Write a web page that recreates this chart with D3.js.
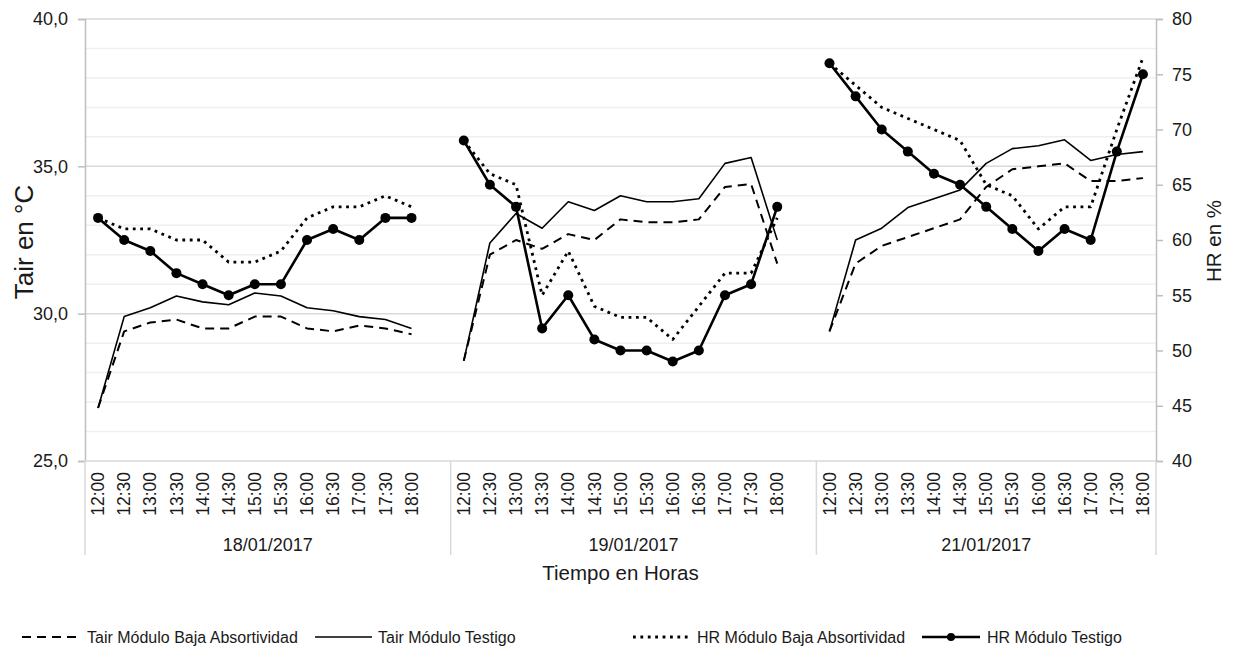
<!DOCTYPE html>
<html>
<head>
<meta charset="utf-8">
<script src="https://cdn.jsdelivr.net/npm/d3@7"></script>
<style>
  html, body { margin: 0; padding: 0; background: #fff; }
  svg { display: block; font-family: "Liberation Sans", Arial, sans-serif; }
</style>
</head>
<body>
<svg id="chart" width="1233" height="648"></svg>
<script>
// ---------------- DATA ----------------
const dates = ["18/01/2017", "19/01/2017", "21/01/2017"];
const hours = ["12:00","12:30","13:00","13:30","14:00","14:30","15:00","15:30","16:00","16:30","17:00","17:30","18:00"];
const groupHasBlank = [true, true, false];   // empty trailing category after the day's hours

const tairBaja = [
  [26.8,29.4,29.7,29.8,29.5,29.5,29.9,29.9,29.5,29.4,29.6,29.5,29.3],
  [28.4,32.0,32.5,32.2,32.7,32.5,33.2,33.1,33.1,33.2,34.3,34.4,31.7],
  [29.4,31.7,32.3,32.6,32.9,33.2,34.3,34.9,35.0,35.1,34.5,34.5,34.6]
];
const tairTestigo = [
  [26.8,29.9,30.2,30.6,30.4,30.3,30.7,30.6,30.2,30.1,29.9,29.8,29.5],
  [28.4,32.4,33.4,32.9,33.8,33.5,34.0,33.8,33.8,33.9,35.1,35.3,32.5],
  [29.4,32.5,32.9,33.6,33.9,34.2,35.1,35.6,35.7,35.9,35.2,35.4,35.5]
];
const hrBaja = [
  [62,61,61,60,60,58,58,59,62,63,63,64,63],
  [69,66,65,55,59,54,53,53,51,54,57,57,62],
  [76,74,72,71,70,69,65,64,61,63,63,70,76.5]
];
const hrTestigo = [
  [62,60,59,57,56,55,56,56,60,61,60,62,62],
  [69,65,63,52,55,51,50,50,49,50,55,56,63],
  [76,73,70,68,66,65,63,61,59,61,60,68,75]
];

const leftTicks = [25, 30, 35, 40];
const rightTicks = [40, 45, 50, 55, 60, 65, 70, 75, 80];
const legendLabels = ["Tair Módulo Baja Absortividad", "Tair Módulo Testigo", "HR Módulo Baja Absortividad", "HR Módulo Testigo"];

// ---------------- LAYOUT ----------------
const M = { left: 85, right: 1156, top: 19, bottom: 461 };
const textColor = "#1a1a1a";
const svg = d3.select("#chart");

// category domain with blank slots
const domain = [];
dates.forEach((d, g) => {
  hours.forEach((h, i) => domain.push(g + "|" + i));
  if (groupHasBlank[g]) domain.push(g + "|blank");
});
const x = d3.scaleBand().domain(domain).range([M.left, M.right]).padding(0);
const xc = key => x(key) + x.bandwidth() / 2;

const yL = d3.scaleLinear().domain([25, 40]).range([M.bottom, M.top]);
const yR = d3.scaleLinear().domain([40, 80]).range([M.bottom, M.top]);

// ---------------- GRID ----------------
const minor = d3.range(26, 40, 1).filter(v => v % 5 !== 0);
svg.append("g").selectAll("line").data(minor).join("line")
  .attr("x1", M.left).attr("x2", M.right)
  .attr("y1", d => yL(d)).attr("y2", d => yL(d))
  .attr("stroke", "#efefef").attr("stroke-width", 1.5);
svg.append("g").selectAll("line").data([30, 35, 40]).join("line")
  .attr("x1", M.left).attr("x2", M.right)
  .attr("y1", d => yL(d)).attr("y2", d => yL(d))
  .attr("stroke", "#d9d9d9").attr("stroke-width", 1.5);

// ---------------- AXES ----------------
const leftAxis = d3.axisLeft(yL).tickValues(leftTicks).tickSize(7).tickPadding(10)
  .tickFormat(d => d3.format(".1f")(d).replace(".", ","));
const gL = svg.append("g").attr("transform", `translate(${M.left},0)`).call(leftAxis);
gL.select(".domain").attr("stroke", "#bfbfbf").attr("stroke-width", 1.5);
gL.selectAll(".tick line").attr("stroke", "#bfbfbf").attr("stroke-width", 1.5);
gL.selectAll(".tick text").attr("fill", textColor).style("font-size", "18px");

const rightAxis = d3.axisRight(yR).tickValues(rightTicks).tickSize(7).tickPadding(9);
const gR = svg.append("g").attr("transform", `translate(${M.right},0)`).call(rightAxis);
gR.select(".domain").attr("stroke", "#bfbfbf").attr("stroke-width", 1.5);
gR.selectAll(".tick line").attr("stroke", "#bfbfbf").attr("stroke-width", 1.5);
gR.selectAll(".tick text").attr("fill", textColor).style("font-size", "18px");

// x baseline
svg.append("line").attr("x1", M.left).attr("x2", M.right)
  .attr("y1", M.bottom).attr("y2", M.bottom)
  .attr("stroke", "#d9d9d9").attr("stroke-width", 1.5);

// group separators
const groupBounds = dates.map((d, g) => {
  const keys = domain.filter(k => k.startsWith(g + "|"));
  return [x(keys[0]), x(keys[keys.length - 1]) + x.bandwidth()];
});
const sepX = [groupBounds[0][0], ...groupBounds.map(b => b[1])];
svg.append("g").selectAll("line").data(sepX).join("line")
  .attr("x1", d => d).attr("x2", d => d)
  .attr("y1", M.bottom).attr("y2", 555)
  .attr("stroke", "#d9d9d9").attr("stroke-width", 1.5);

// hour labels
const hourKeys = domain.filter(k => !k.endsWith("blank"));
svg.append("g").selectAll("text").data(hourKeys).join("text")
  .attr("transform", k => `translate(${xc(k)},472) rotate(-90)`)
  .attr("text-anchor", "end").attr("dy", "0.35em")
  .attr("fill", textColor).style("font-size", "17.5px")
  .text(k => hours[+k.split("|")[1]]);

// date labels
svg.append("g").selectAll("text").data(dates).join("text")
  .attr("x", (d, g) => (groupBounds[g][0] + groupBounds[g][1]) / 2)
  .attr("y", 551).attr("text-anchor", "middle")
  .attr("fill", textColor).style("font-size", "18px")
  .text(d => d);

// axis titles
svg.append("text").attr("x", (M.left + M.right) / 2).attr("y", 580)
  .attr("text-anchor", "middle").attr("fill", textColor).style("font-size", "20.5px")
  .text("Tiempo en Horas");
svg.append("text").attr("transform", "translate(33,242) rotate(-90)")
  .attr("text-anchor", "middle").attr("fill", textColor).style("font-size", "26px")
  .text("Tair en °C");
svg.append("text").attr("transform", "translate(1221,241) rotate(-90)")
  .attr("text-anchor", "middle").attr("fill", textColor).style("font-size", "20.5px")
  .text("HR en %");

// ---------------- SERIES ----------------
const styles = {
  tairBaja:    { width: 2,   dash: "9,6" },
  tairTestigo: { width: 1.6, dash: null },
  hrBaja:      { width: 2.8, dash: "2.8,4.6" },
  hrTestigo:   { width: 2.6, dash: null }
};

function drawSeries(data, yScale, st, markers) {
  const g = svg.append("g");
  data.forEach((vals, gi) => {
    const pts = vals.map((v, i) => [xc(gi + "|" + i), yScale(v)]);
    g.append("path").attr("d", d3.line()(pts))
      .attr("fill", "none").attr("stroke", "#000")
      .attr("stroke-width", st.width)
      .attr("stroke-dasharray", st.dash)
      .attr("stroke-linejoin", "round");
    if (markers) {
      g.selectAll(null).data(pts).join("circle")
        .attr("cx", p => p[0]).attr("cy", p => p[1]).attr("r", 5).attr("fill", "#000");
    }
  });
}
drawSeries(tairBaja, yL, styles.tairBaja, false);
drawSeries(tairTestigo, yL, styles.tairTestigo, false);
drawSeries(hrBaja, yR, styles.hrBaja, false);
drawSeries(hrTestigo, yR, styles.hrTestigo, true);

// ---------------- LEGEND ----------------
const legendY = 637;
const legendItems = [
  { x0: 22,  x1: 78,  tx: 87,  st: styles.tairBaja,    m: false },
  { x0: 315, x1: 372, tx: 378, st: styles.tairTestigo, m: false },
  { x0: 633, x1: 690, tx: 697, st: styles.hrBaja,      m: false },
  { x0: 922, x1: 980, tx: 987, st: styles.hrTestigo,   m: true }
];
const lg = svg.append("g");
legendItems.forEach((it, i) => {
  lg.append("line").attr("x1", it.x0).attr("x2", it.x1).attr("y1", legendY).attr("y2", legendY)
    .attr("stroke", "#000").attr("stroke-width", it.st.width).attr("stroke-dasharray", it.st.dash);
  if (it.m) lg.append("circle").attr("cx", (it.x0 + it.x1) / 2).attr("cy", legendY).attr("r", 4).attr("fill", "#000");
  lg.append("text").attr("x", it.tx).attr("y", legendY).attr("dy", "0.35em")
    .attr("fill", textColor).style("font-size", "16px").text(legendLabels[i]);
});
</script>
</body>
</html>
